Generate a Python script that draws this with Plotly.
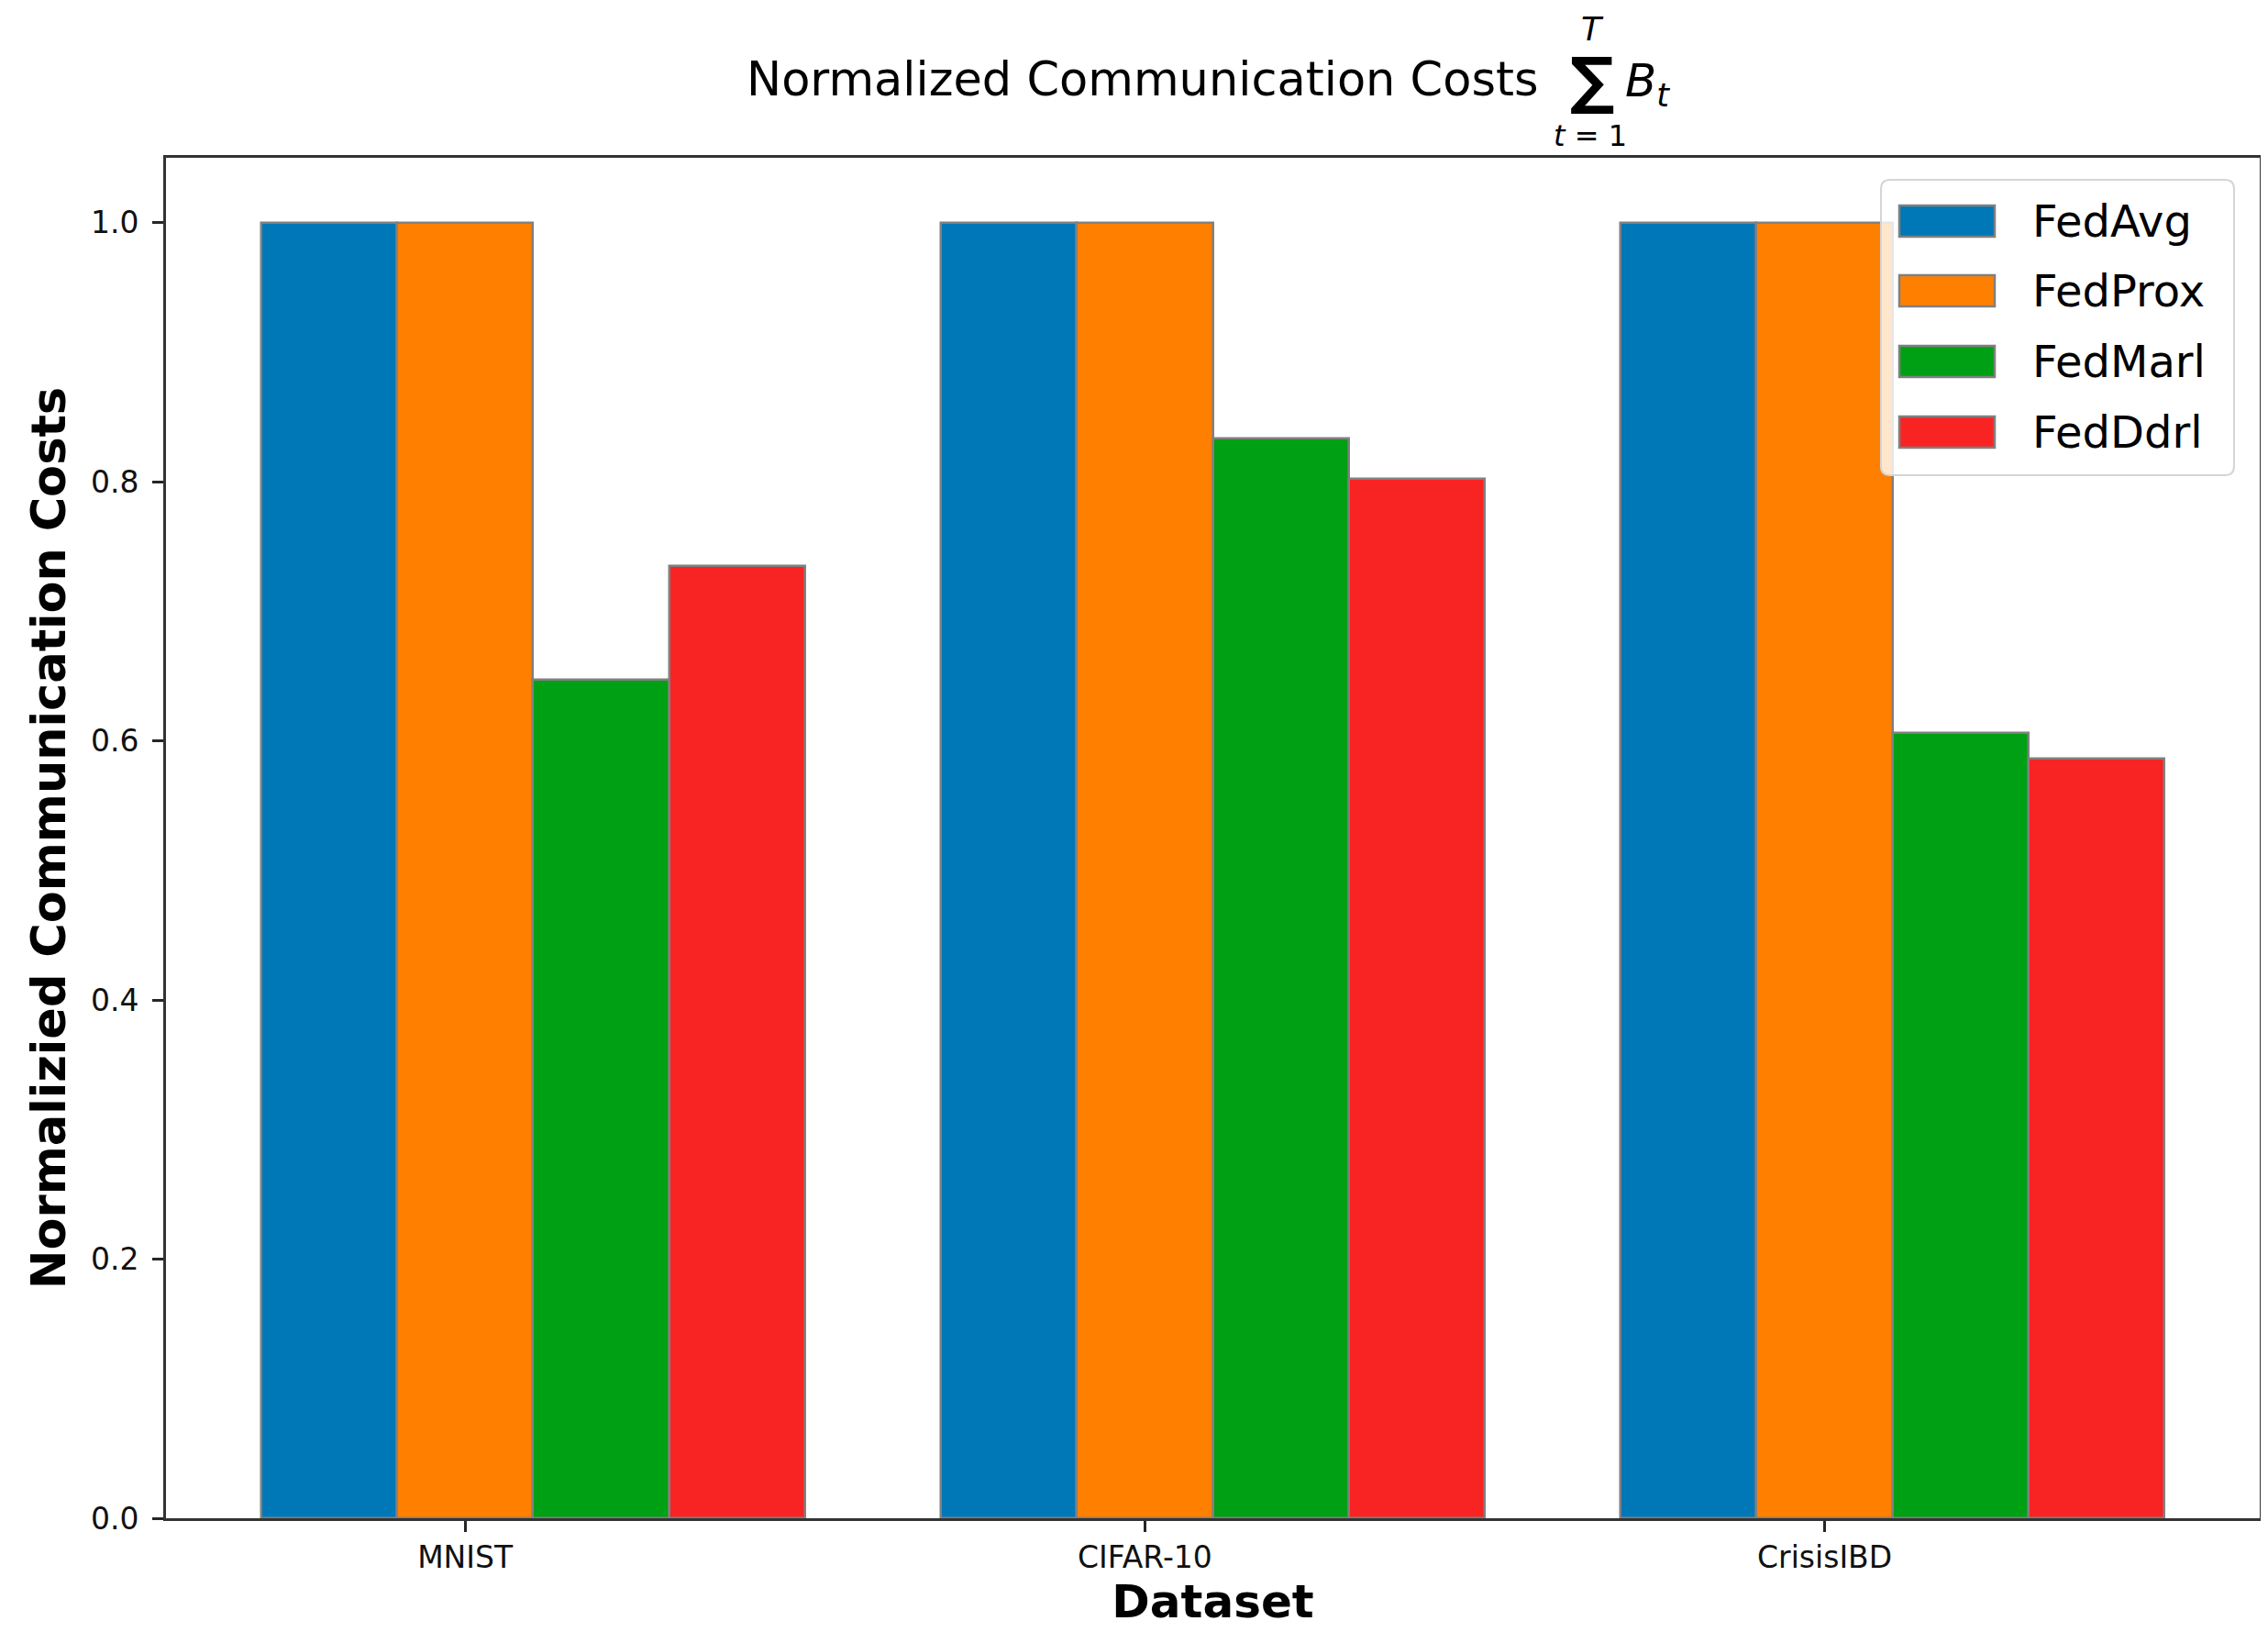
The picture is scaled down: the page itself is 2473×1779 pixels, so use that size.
import numpy as np
import plotly.graph_objects as go

# ---- data ----
datasets = ["MNIST", "CIFAR-10", "CrisisIBD"]
methods = ["FedAvg", "FedProx", "FedMarl", "FedDdrl"]
fedavg = [1.0, 1.0, 1.0]
fedprox = [1.0, 1.0, 1.0]
fedmarl = [0.647, 0.833, 0.606]
fedddrl = [0.735, 0.802, 0.586]
colors = ["#0077B6", "#FF8000", "#00A014", "#F82424"]
y_ticks = [0.0, 0.2, 0.4, 0.6, 0.8, 1.0]

series = [fedavg, fedprox, fedmarl, fedddrl]

W, H = 2473, 1779
L, R, T, B = 173, 17, 164, 132
PW, PH = W - L - R, H - T - B

def px(x):
    return (x - L) / PW

def py(y):
    return (H - B - y) / PH

def rounded_rect(x0, y0, x1, y1, r):
    # pixel coords (y downwards) -> paper path with rounded corners
    X0, X1 = px(x0), px(x1)
    Y0, Y1 = py(y0), py(y1)  # Y0 top (larger), Y1 bottom
    rx, ry = r / PW, r / PH
    return (f"M {X0+rx},{Y0} L {X1-rx},{Y0} Q {X1},{Y0} {X1},{Y0-ry} "
            f"L {X1},{Y1+ry} Q {X1},{Y1} {X1-rx},{Y1} "
            f"L {X0+rx},{Y1} Q {X0},{Y1} {X0},{Y1+ry} "
            f"L {X0},{Y0-ry} Q {X0},{Y0} {X0+rx},{Y0} Z")

FONT = "DejaVu Sans"
bar_w = 0.2
idx = np.arange(len(datasets))

fig = go.Figure()
for j, (name, vals, col) in enumerate(zip(methods, series, colors)):
    fig.add_trace(go.Bar(
        x=idx + (j - 1) * bar_w, y=vals, width=bar_w, name=name,
        marker=dict(color=col, line=dict(color="#808080", width=2.5)),
        showlegend=False,
    ))

fig.update_layout(
    width=W, height=H,
    margin=dict(l=L, r=R, t=T, b=B),
    paper_bgcolor="white", plot_bgcolor="white",
    font=dict(family=FONT, color="#111111"),
    xaxis=dict(range=[-0.44, 2.64], tickvals=list(idx), ticktext=datasets,
               tickfont=dict(size=33, color="#111111"), ticks="outside", ticklen=12,
               tickwidth=2.5, tickcolor="#262626",
               showline=True, linecolor="#333333", linewidth=2.7, mirror=True,
               showgrid=False, zeroline=False,
               title=dict(text="<b>Dataset</b>", font=dict(size=50, color="black"), standoff=10)),
    yaxis=dict(range=[0, 1.05], tickvals=y_ticks, tickformat=".1f",
               tickfont=dict(size=33, color="#111111"), ticks="outside", ticklen=12,
               tickwidth=2.5, tickcolor="#262626", ticklabelstandoff=8,
               showline=True, linecolor="#333333", linewidth=2.7, mirror=True,
               showgrid=False, zeroline=False,
               title=dict(text="<b>Normalizied Communication Costs</b>", font=dict(size=51, color="black"), standoff=12)),
    bargap=0,
)

# ---- title with summation ----
ann = []
ann.append(dict(x=px(1238), y=py(78), xref="paper", yref="paper", showarrow=False,
                text="Normalized Communication Costs", font=dict(size=51, color="black"),
                xanchor="center", yanchor="middle"))
ann.append(dict(x=px(1728), y=py(80), xref="paper", yref="paper", showarrow=False,
                text="<b>∑</b>", font=dict(size=68, color="black"), xanchor="center", yanchor="middle"))
ann.append(dict(x=px(1728), y=py(24), xref="paper", yref="paper", showarrow=False,
                text="<i>T</i>", font=dict(size=36, color="black"), xanchor="center", yanchor="middle"))
ann.append(dict(x=px(1726), y=py(140), xref="paper", yref="paper", showarrow=False,
                text="<i>t</i> = 1", font=dict(size=32, color="black"), xanchor="center", yanchor="middle"))
ann.append(dict(x=px(1762), y=py(84), xref="paper", yref="paper", showarrow=False,
                text="<i>B</i><sub><i>t</i></sub>", font=dict(size=50, color="black"),
                xanchor="left", yanchor="middle"))

# ---- custom legend ----
shapes = []
shapes.append(dict(type="path", xref="paper", yref="paper", layer="above",
                   path=rounded_rect(2043, 188, 2428, 510, 10),
                   fillcolor="rgba(255,255,255,0.8)", line=dict(color="#d5d5d5", width=2)))
y_centers = [233, 309, 386, 463]
for name, col, yc in zip(methods, colors, y_centers):
    shapes.append(dict(type="rect", xref="paper", yref="paper", layer="above",
                       x0=px(2063), x1=px(2167), y0=py(yc + 17), y1=py(yc - 17),
                       fillcolor=col, line=dict(color="#808080", width=2.5)))
    ann.append(dict(x=px(2206), y=py(yc), xref="paper", yref="paper", showarrow=False,
                    text=name, font=dict(size=48, color="black"),
                    xanchor="left", yanchor="middle"))

fig.update_layout(annotations=ann, shapes=shapes)
fig.write_html("out.html")
